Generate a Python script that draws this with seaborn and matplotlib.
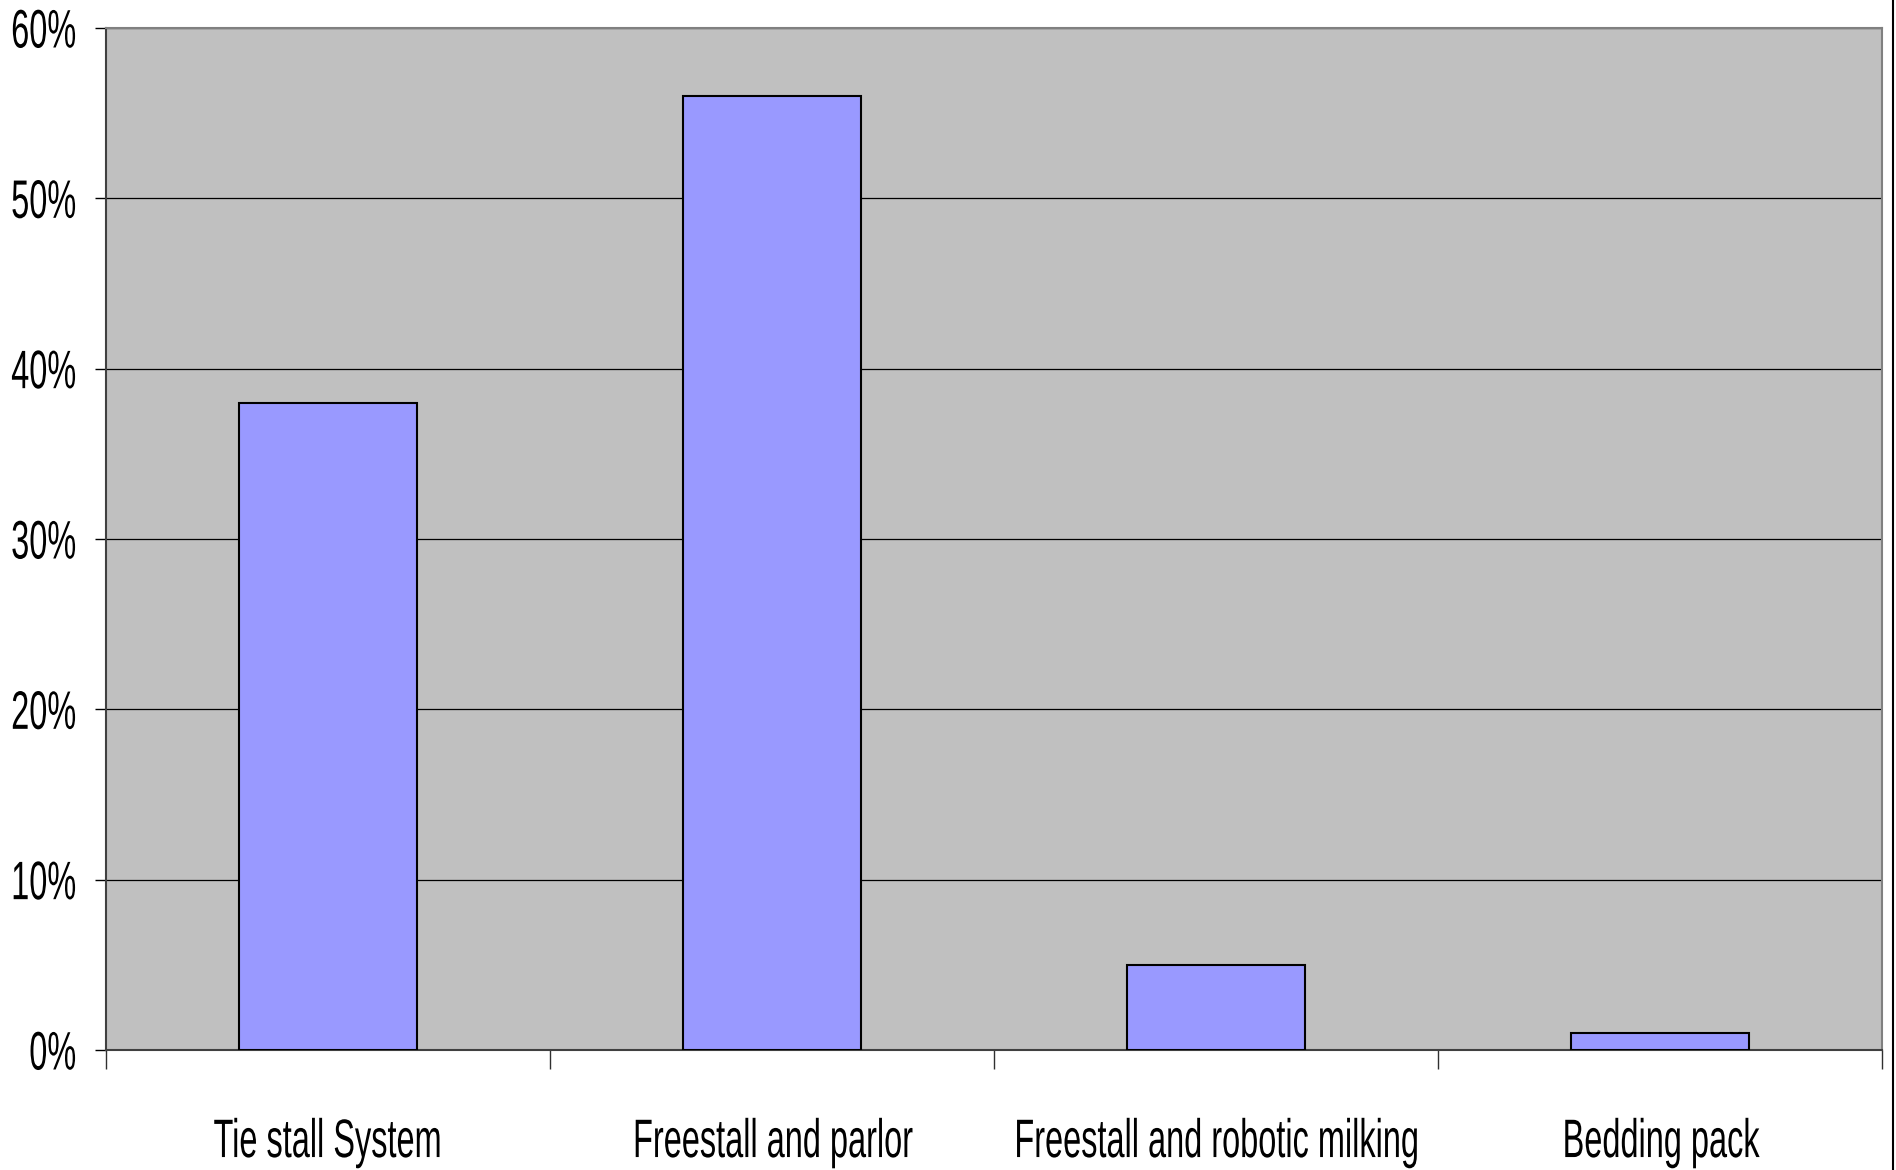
import matplotlib
matplotlib.use('Agg')
import pandas as pd
import seaborn as sns
import matplotlib.pyplot as plt
from matplotlib.ticker import PercentFormatter, FixedLocator
from matplotlib.lines import Line2D
from matplotlib.patheffects import AbstractPathEffect
from matplotlib.transforms import Affine2D

categories = ['Tie stall System', 'Freestall and parlor',
              'Freestall and robotic milking', 'Bedding pack']
shares = [38, 56, 5, 1]
y_ticks = [0, 10, 20, 30, 40, 50, 60]


class Narrow(AbstractPathEffect):
    '''squeeze text glyphs sideways, the reference uses a very narrow face'''
    def __init__(self, factor=0.6, anchor='center'):
        super().__init__()
        self.factor = factor
        self.anchor = anchor

    def draw_path(self, renderer, gc, tpath, affine, rgbFace=None):
        ext = tpath.get_extents()
        x0 = ext.x1 if self.anchor == 'right' else (ext.x0 + ext.x1) / 2
        squeeze = Affine2D().translate(-x0, 0).scale(self.factor, 1).translate(x0, 0)
        renderer.draw_path(gc, tpath, squeeze + affine, rgbFace)


df = pd.DataFrame({'system': categories, 'share': shares})

sns.set_style('white')
plt.rcParams['font.family'] = ['Liberation Sans', 'DejaVu Sans']

fig = plt.figure(figsize=(18.96, 11.7), dpi=100)
ax = fig.add_axes([106 / 1896, 1 - 1050 / 1170, (1882 - 106) / 1896, (1050 - 28) / 1170])
ax.set_facecolor('#C0C0C0')

sns.barplot(data=df, x='system', y='share', color='#9999FF', width=0.4,
            edgecolor='black', linewidth=1.5, saturation=1, ax=ax, zorder=3)

ax.set_xlim(-0.5, len(categories) - 0.5)
ax.set_ylim(0, 60)
ax.set_yticks(y_ticks)
ax.yaxis.set_major_formatter(PercentFormatter(decimals=0))
ax.grid(axis='y', color='black', linewidth=0.9, zorder=1)
ax.set_axisbelow(True)
ax.set_xlabel('')
ax.set_ylabel('')

# category labels centred, boundary ticks below the axis
ax.tick_params(axis='x', which='major', length=0, pad=49, labelsize=39, labelcolor='black')
ax.xaxis.set_minor_locator(FixedLocator([i - 0.5 for i in range(len(categories) + 1)]))
ax.tick_params(axis='x', which='minor', length=14, width=1, color='#303030', bottom=True)
ax.tick_params(axis='y', length=8, width=1, color='black', pad=13, labelsize=39,
               labelcolor='black', left=True)

for lab in ax.get_xticklabels():
    lab.set_path_effects([Narrow(0.6, 'center')])
for lab in ax.get_yticklabels():
    lab.set_path_effects([Narrow(0.6, 'right')])

for side in ['left', 'bottom']:
    ax.spines[side].set_color('#404040')
    ax.spines[side].set_linewidth(1.5)
for side in ['top', 'right']:
    ax.spines[side].set_color('#808080')
    ax.spines[side].set_linewidth(1.5)

fig.add_artist(Line2D([1893 / 1896, 1893 / 1896], [0, 1], color='black', linewidth=1.5))

fig.savefig('out.png', dpi=100)
